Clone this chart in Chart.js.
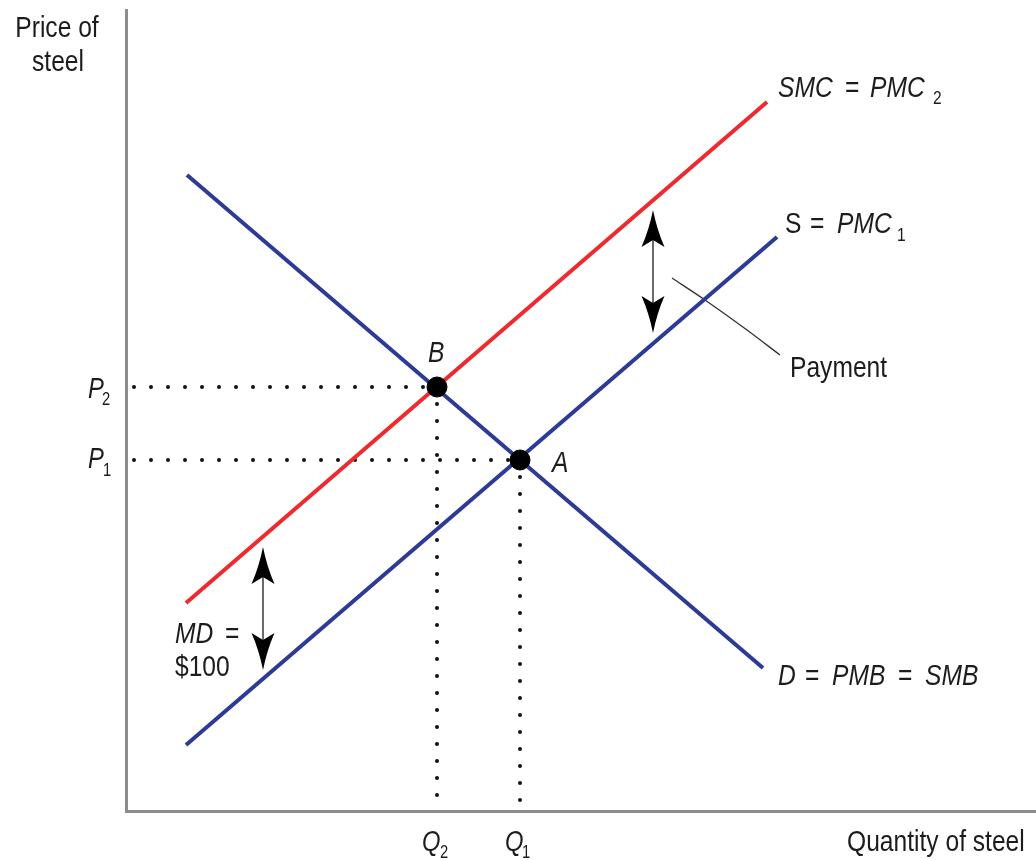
<!DOCTYPE html>
<html><head><meta charset="utf-8">
<script src="https://cdn.jsdelivr.net/npm/chart.js@4"></script>
<style>html,body{margin:0;padding:0;background:#fff}#wrap{width:1036px;height:860px}</style>
</head><body><div id="wrap"><canvas id="c" width="1036" height="860"></canvas></div>
<script>
// Curves (quantity, price) in arbitrary units
const smcQ = [6.0, 64.1];   const smcP = [20.8, 70.9];   // SMC = PMC2
const sQ   = [6.0, 65.1];   const sP   = [6.6, 57.4];    // S = PMC1
const dQ   = [6.1, 63.7];   const dP   = [63.6, 14.3];   // D = PMB = SMB
// Equilibria
const eqNames = ['B', 'A'];
const eqQ = [31.1, 39.4];
const eqP = [42.4, 35.1];
// Vertical double arrows (MD = $100, Payment)
const arrowQ = [13.7, 52.7];
const arrowLow = [14.1, 47.8];
const arrowHigh = [26.4, 60.1];
// Leader line for "Payment"
const leaderQ = [54.6, 57.9, 62.1, 65.4];
const leaderP = [53.3, 51.1, 48.1, 45.6];

const pts = (xs, ys) => xs.map((x, i) => ({x, y: ys[i]}));
const FONT = '"Liberation Sans", Arial, sans-serif';
const RED = '#ee2a2f', BLUE = '#2d3a96', TXT = '#1c1c1c';

const dotStyle = {type: 'line', borderColor: '#111', borderWidth: 4, borderDash: [0, 17],
  borderCapStyle: 'round', pointRadius: 0, fill: false, order: 5};

const datasets = [
  Object.assign({data: [{x: 0.8, y: eqP[0]}, {x: eqQ[0], y: eqP[0]}]}, dotStyle),
  Object.assign({data: [{x: 0.8, y: eqP[1]}, {x: eqQ[1], y: eqP[1]}]}, dotStyle),
  Object.assign({data: [{x: eqQ[0], y: eqP[0]}, {x: eqQ[0], y: 0}]}, dotStyle),
  Object.assign({data: [{x: eqQ[1], y: eqP[1]}, {x: eqQ[1], y: 0}]}, dotStyle),
  {type: 'line', data: pts(smcQ, smcP), borderColor: RED, borderWidth: 4, pointRadius: 0, order: 3},
  {type: 'line', data: pts(sQ, sP), borderColor: BLUE, borderWidth: 4, pointRadius: 0, order: 3},
  {type: 'line', data: pts(dQ, dP), borderColor: BLUE, borderWidth: 4, pointRadius: 0, order: 2},
  {type: 'line', data: pts(leaderQ, leaderP), borderColor: '#333', borderWidth: 1.3, pointRadius: 0, tension: 0.3, order: 4},
  {type: 'scatter', data: pts(eqQ, eqP), pointRadius: 10, pointBackgroundColor: '#000', pointBorderColor: '#000', order: 0}
];

// condensed text: Liberation Sans squeezed horizontally
function txt(ctx, s, x, y, size, italic, align) {
  ctx.save();
  ctx.font = (italic ? 'italic ' : '') + size + 'px ' + FONT;
  ctx.textBaseline = 'alphabetic';
  ctx.fillStyle = TXT;
  const sx = 0.82;
  const w = ctx.measureText(s).width * sx;
  let left = x;
  if (align === 'center') left = x - w / 2;
  else if (align === 'right') left = x - w;
  ctx.translate(left, y);
  ctx.scale(sx, 1);
  ctx.textAlign = 'left';
  ctx.fillText(s, 0, 0);
  ctx.restore();
}

const overlay = {
  id: 'overlay',
  afterDatasetsDraw(chart) {
    const ctx = chart.ctx, xs = chart.scales.x, ys = chart.scales.y;
    ctx.save();
    arrowQ.forEach((q, i) => {
      const x = xs.getPixelForValue(q);
      const yt = ys.getPixelForValue(arrowHigh[i]);
      const yb = ys.getPixelForValue(arrowLow[i]);
      ctx.strokeStyle = '#6a6a6a'; ctx.lineWidth = 2;
      ctx.beginPath(); ctx.moveTo(x, yt + 20); ctx.lineTo(x, yb - 20); ctx.stroke();
      ctx.fillStyle = '#000';
      const head = (tipY, dir) => {
        ctx.beginPath();
        ctx.moveTo(x, tipY);
        ctx.quadraticCurveTo(x - 4, tipY + dir * 20, x - 11.5, tipY + dir * 37);
        ctx.lineTo(x, tipY + dir * 30);
        ctx.lineTo(x + 11.5, tipY + dir * 37);
        ctx.quadraticCurveTo(x + 4, tipY + dir * 20, x, tipY);
        ctx.fill();
      };
      head(yt, 1); head(yb, -1);
    });
    txt(ctx, 'Price of', 57, 37, 30, false, 'center');
    txt(ctx, 'steel', 58, 71, 30, false, 'center');
    txt(ctx, 'Quantity of steel', 847, 851, 30, false, 'left');
    txt(ctx, 'P', 88, 398, 29, true); txt(ctx, '2', 102, 405, 18, false);
    txt(ctx, 'P', 88, 468, 29, true); txt(ctx, '1', 103, 476, 18, false);
    txt(ctx, 'Q', 422, 851, 29, true); txt(ctx, '2', 440, 858, 18, false);
    txt(ctx, 'Q', 505, 851, 29, true); txt(ctx, '1', 522, 858, 18, false);
    txt(ctx, eqNames[0], 428, 362, 30, true);
    txt(ctx, eqNames[1], 552, 472, 30, true);
    txt(ctx, 'SMC', 778, 97, 30, true); txt(ctx, '=', 845, 97, 30, false);
    txt(ctx, 'PMC', 870, 97, 30, true); txt(ctx, '2', 933, 104, 19, false);
    txt(ctx, 'S', 785, 233, 30, false); txt(ctx, '=', 810, 233, 30, false);
    txt(ctx, 'PMC', 837, 233, 30, true); txt(ctx, '1', 897, 241, 19, false);
    txt(ctx, 'D', 778, 685, 30, true); txt(ctx, '=', 805, 685, 30, false);
    txt(ctx, 'PMB', 832, 685, 30, true); txt(ctx, '=', 898, 685, 30, false);
    txt(ctx, 'SMB', 925, 685, 30, true);
    txt(ctx, 'Payment', 790, 377, 30, false);
    txt(ctx, 'MD', 175, 643, 30, true); txt(ctx, '=', 225, 643, 30, false);
    txt(ctx, '$100', 175, 676, 30, false);
    ctx.restore();
  }
};

new Chart(document.getElementById('c'), {
  data: {datasets},
  options: {
    responsive: false, animation: false, devicePixelRatio: 1,
    layout: {autoPadding: false, padding: {left: 126, top: 10, right: 0, bottom: 49}},
    plugins: {legend: {display: false}, tooltip: {enabled: false}},
    scales: {
      x: {type: 'linear', min: 0, max: 91.0, grid: {display: false, drawTicks: false},
          ticks: {display: false}, border: {display: true, color: '#8c8c8c', width: 3}},
      y: {type: 'linear', min: 0, max: 80.1, grid: {display: false, drawTicks: false},
          ticks: {display: false}, border: {display: true, color: '#8c8c8c', width: 3}}
    }
  },
  plugins: [overlay]
});
</script>
</body></html>
